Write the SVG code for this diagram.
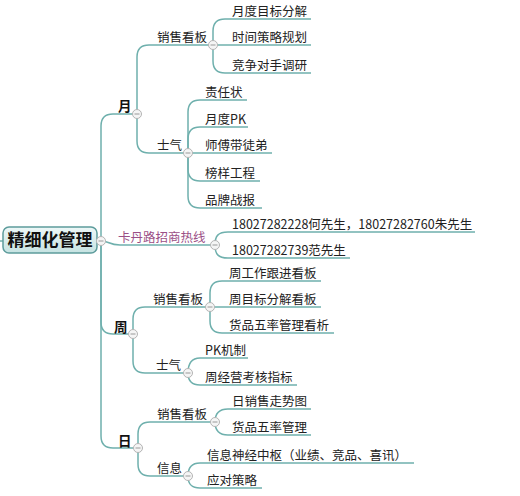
<svg xmlns="http://www.w3.org/2000/svg" width="520" height="496" viewBox="0 0 520 496">
<defs>
<linearGradient id="rootg" x1="0" y1="0" x2="0" y2="1">
<stop offset="0" stop-color="#eef8f8"/>
<stop offset="1" stop-color="#c6e3e2"/>
</linearGradient>
<g id="col">
<circle cx="0" cy="0" r="4.5" fill="#f5f5f5" stroke="#b4b4b4" stroke-width="1"/>
<line x1="-2.5" y1="0" x2="2.5" y2="0" stroke="#999" stroke-width="1"/>
</g>
</defs>
<style>
.c{fill:none;stroke:#6fb0ad;stroke-width:1.5}
.t{font-family:"Noto Sans CJK SC","Liberation Sans",sans-serif;font-size:12.5px;fill:#222}
.b{font-family:"Noto Sans CJK SC","Liberation Sans",sans-serif;font-size:13.5px;font-weight:bold;fill:#111}
.p{font-family:"Noto Sans CJK SC","Liberation Sans",sans-serif;font-size:12.5px;fill:#9b4f86}
.r{font-family:"Noto Sans CJK SC","Liberation Sans",sans-serif;font-size:17px;font-weight:bold;fill:#111}
</style>
<rect width="520" height="496" fill="#ffffff"/>
<g id="connectors">
<path class="c" d="M0,241 L3,241"/>
<path class="c" d="M101,241 L101,126 Q101,114 113,114 L137,114"/>
<path class="c" d="M101,241 C110,241 108,245 120,245 L215,245"/>
<path class="c" d="M101,241 L101,322 Q101,334 113,334 L133,334"/>
<path class="c" d="M101,241 L101,436 Q101,448 113,448 L138,448"/>
<path class="c" d="M137,114 L137,57 Q137,45 149,45 L213,45"/>
<path class="c" d="M137,114 L137,141 Q137,153 149,153 L188,153"/>
<path class="c" d="M213,45 L213,31 Q213,19 225,19 L311,19"/>
<path class="c" d="M213,45 L311,45"/>
<path class="c" d="M213,45 L213,61 Q213,73 225,73 L311,73"/>
<path class="c" d="M188,153 L188,112 Q188,100 200,100 L247,100"/>
<path class="c" d="M188,153 L188,139 Q188,127 200,127 L248,127"/>
<path class="c" d="M188,153 L272,153"/>
<path class="c" d="M188,153 L188,169 Q188,181 200,181 L260,181"/>
<path class="c" d="M188,153 L188,196 Q188,208 200,208 L262,208"/>
<path class="c" d="M215,245 C215,236 218,232 228,232 L475,232"/>
<path class="c" d="M215,245 C215,254 218,258 228,258 L350,258"/>
<path class="c" d="M133,334 L133,319 Q133,307 145,307 L210,307"/>
<path class="c" d="M133,334 L133,361 Q133,373 145,373 L188,373"/>
<path class="c" d="M210,307 L210,293 Q210,281 222,281 L321,281"/>
<path class="c" d="M210,307 L321,307"/>
<path class="c" d="M210,307 L210,321 Q210,333 222,333 L334,333"/>
<path class="c" d="M188,373 C188,363 192,358 200,358 L248,358"/>
<path class="c" d="M188,373 C188,381 192,385 200,385 L297,385"/>
<path class="c" d="M138,448 L138,434 Q138,422 150,422 L215,422"/>
<path class="c" d="M138,448 L138,464 Q138,476 150,476 L188,476"/>
<path class="c" d="M215,422 C215,413 219,409 228,409 L311,409"/>
<path class="c" d="M215,422 C215,431 219,435 228,435 L311,435"/>
<path class="c" d="M188,476 C188,467 192,463 200,463 L414,463"/>
<path class="c" d="M188,476 C188,485 192,488 200,488 L262,488"/>
</g>
<g id="root">
<rect x="3" y="227" width="94" height="26" rx="6" fill="url(#rootg)" stroke="#5d9c9c" stroke-width="1.5"/>
<text class="r" x="50" y="246" text-anchor="middle">精细化管理</text>
<use href="#col" x="101" y="241"/>
</g>
<g id="n-yue"><text class="b" x="118" y="111">月</text><use href="#col" x="137" y="114"/></g>
<g id="n-yue-xs"><text class="t" x="157" y="42">销售看板</text><use href="#col" x="213" y="45"/></g>
<g id="n-yue-xs-1"><text class="t" x="232" y="16">月度目标分解</text></g>
<g id="n-yue-xs-2"><text class="t" x="232" y="42">时间策略规划</text></g>
<g id="n-yue-xs-3"><text class="t" x="232" y="70">竞争对手调研</text></g>
<g id="n-yue-sq"><text class="t" x="157" y="150">士气</text><use href="#col" x="188" y="153"/></g>
<g id="n-yue-sq-1"><text class="t" x="205" y="97">责任状</text></g>
<g id="n-yue-sq-2"><text class="t" x="205" y="124">月度PK</text></g>
<g id="n-yue-sq-3"><text class="t" x="205" y="150">师傅带徒弟</text></g>
<g id="n-yue-sq-4"><text class="t" x="205" y="178">榜样工程</text></g>
<g id="n-yue-sq-5"><text class="t" x="205" y="205">品牌战报</text></g>
<g id="n-hotline"><text class="p" x="118" y="242">卡丹路招商热线</text><use href="#col" x="215" y="245"/></g>
<g id="n-hotline-1"><text class="t" x="232" y="229">18027282228何先生，18027282760朱先生</text></g>
<g id="n-hotline-2"><text class="t" x="232" y="255">18027282739范先生</text></g>
<g id="n-zhou"><text class="b" x="114" y="332">周</text><use href="#col" x="133" y="334"/></g>
<g id="n-zhou-xs"><text class="t" x="153" y="304">销售看板</text><use href="#col" x="210" y="307"/></g>
<g id="n-zhou-xs-1"><text class="t" x="229" y="278">周工作跟进看板</text></g>
<g id="n-zhou-xs-2"><text class="t" x="229" y="304">周目标分解看板</text></g>
<g id="n-zhou-xs-3"><text class="t" x="229" y="330">货品五率管理看析</text></g>
<g id="n-zhou-sq"><text class="t" x="156" y="370">士气</text><use href="#col" x="188" y="373"/></g>
<g id="n-zhou-sq-1"><text class="t" x="205" y="355">PK机制</text></g>
<g id="n-zhou-sq-2"><text class="t" x="205" y="382">周经营考核指标</text></g>
<g id="n-ri"><text class="b" x="118" y="446">日</text><use href="#col" x="138" y="448"/></g>
<g id="n-ri-xs"><text class="t" x="157" y="419">销售看板</text><use href="#col" x="215" y="422"/></g>
<g id="n-ri-xs-1"><text class="t" x="232" y="406">日销售走势图</text></g>
<g id="n-ri-xs-2"><text class="t" x="232" y="432">货品五率管理</text></g>
<g id="n-ri-xx"><text class="t" x="157" y="473">信息</text><use href="#col" x="188" y="476"/></g>
<g id="n-ri-xx-1"><text class="t" x="207" y="460">信息神经中枢（业绩、竞品、喜讯）</text></g>
<g id="n-ri-xx-2"><text class="t" x="207" y="485">应对策略</text></g>
</svg>
